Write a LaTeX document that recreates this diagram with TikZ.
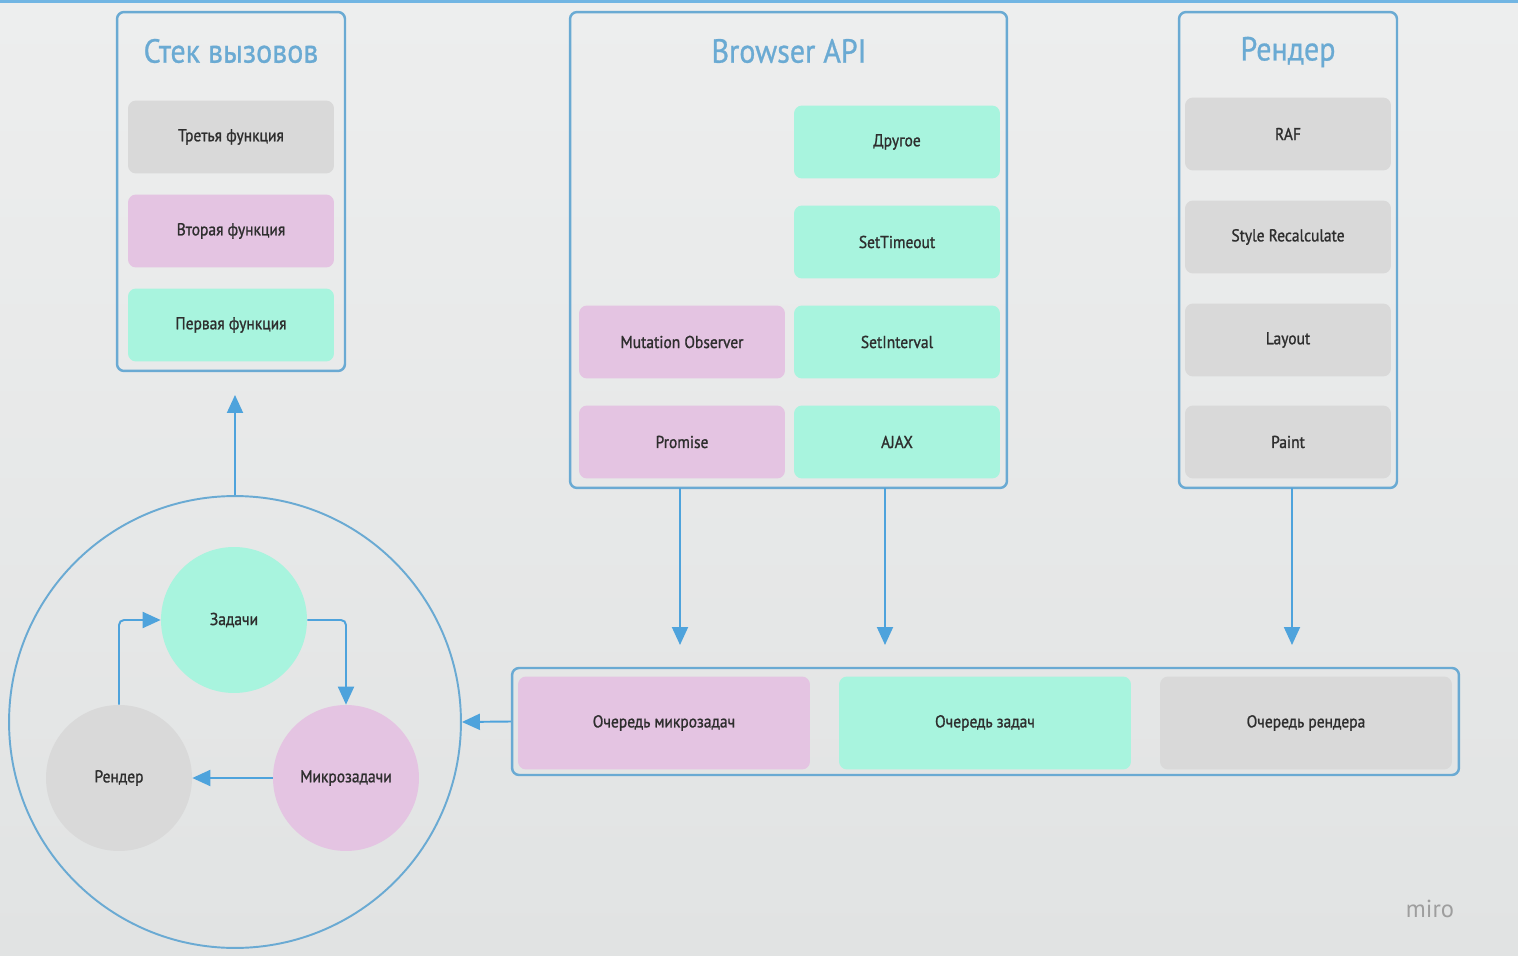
\documentclass[tikz,border=0pt]{standalone}
\usepackage{fontspec}
\setmainfont{PT Sans}
\newfontfamily\labelfont{PT Sans}[FakeBold=1.2, FakeStretch=0.9]
\newfontfamily\titlefont{PT Sans}[FakeBold=0.8, FakeStretch=0.9]
\usetikzlibrary{arrows.meta}

\definecolor{bg}{HTML}{EDEEEE}
\definecolor{bgdark}{HTML}{E1E3E3}
\definecolor{frame}{HTML}{6AAAD3}
\definecolor{arrowblue}{HTML}{4EA3DC}
\definecolor{greybox}{HTML}{D9D9D9}
\definecolor{pinkbox}{HTML}{E4C4E2}
\definecolor{mintbox}{HTML}{A8F4DE}
\definecolor{ink}{HTML}{2E2E2E}

\tikzset{
  container/.style={draw=frame, line width=1.4pt, rounded corners=0.14cm, inner sep=0pt},
  title/.style={text=frame, font=\titlefont\fontsize{19}{19}\selectfont},
  item/.style={rounded corners=0.16cm, minimum width=4.12cm, minimum height=1.46cm,
    text=ink, font=\labelfont\fontsize{9.8}{9.8}\selectfont},
  grey/.style={item, fill=greybox},
  pink/.style={item, fill=pinkbox},
  mint/.style={item, fill=mintbox},
  qitem/.style={item, minimum width=5.84cm, minimum height=1.86cm},
  ball/.style={circle, minimum size=2.92cm, inner sep=0pt, text=ink, font=\labelfont\fontsize{9.8}{9.8}\selectfont},
  arr/.style={draw=arrowblue, line width=1.1pt, -{Triangle[width=0.32cm,length=0.36cm]}},
}

\begin{document}
\begin{tikzpicture}[x=0.02cm, y=-0.02cm]
  % background
  \useasboundingbox (0,0) rectangle (1518,956);
  \shade[top color=bg, bottom color=bgdark] (0,0) rectangle (1518,956);
  \fill[arrowblue!80] (0,0) rectangle (1518,3);

  % call stack
  \node[container, minimum width=4.56cm, minimum height=7.18cm] (stack) at (231,191.5) {};
  \node[title] (stacktitle) at (231,51) {Стек вызовов};
  \node[grey] (third) at (231,137) {Третья функция};
  \node[pink] (second) at (231,231) {Вторая функция};
  \node[mint] (first) at (231,325) {Первая функция};

  % browser api
  \node[container, minimum width=8.74cm, minimum height=9.52cm] (browser) at (788.5,250) {};
  \node[title] (browsertitle) at (789,51) {Browser API};
  \node[mint] (other) at (897,142) {Другое};
  \node[mint] (timeout) at (897,242) {SetTimeout};
  \node[mint] (interval) at (897,342) {SetInterval};
  \node[mint] (ajax) at (897,442) {AJAX};
  \node[pink] (mutation) at (682,342) {Mutation Observer};
  \node[pink] (promise) at (682,442) {Promise};

  % render
  \node[container, minimum width=4.36cm, minimum height=9.52cm] (render) at (1288,250) {};
  \node[title] (rendertitle) at (1288,52) {Рендер};
  \node[grey] (raf) at (1288,134) {RAF};
  \node[grey] (style) at (1288,237) {Style Recalculate};
  \node[grey] (layout) at (1288,340) {Layout};
  \node[grey] (paint) at (1288,442) {Paint};

  % queues
  \node[container, minimum width=18.94cm, minimum height=2.14cm] (queue) at (985.5,721.5) {};
  \node[qitem, fill=pinkbox] (microq) at (664,723) {Очередь микрозадач};
  \node[qitem, fill=mintbox] (taskq) at (985,723) {Очередь задач};
  \node[qitem, fill=greybox] (renderq) at (1306,723) {Очередь рендера};

  % event loop
  \node[circle, draw=frame, line width=1.1pt, minimum size=9.04cm, inner sep=0pt] (loop) at (235,722) {};
  \node[ball, fill=mintbox] (tasks) at (234,620) {Задачи};
  \node[ball, fill=pinkbox] (micro) at (346,778) {Микрозадачи};
  \node[ball, fill=greybox] (rend) at (119,778) {Рендер};

  \coordinate (apiA) at (680,488);
  \coordinate (apiB) at (885,488);
  \coordinate (rndA) at (1292,488);
  \coordinate (inA) at (680,645);
  \coordinate (inB) at (885,645);
  \coordinate (inC) at (1292,645);
  \coordinate (toStack) at (235,395);

  \draw[arr] (apiA) -- (inA);
  \draw[arr] (apiB) -- (inB);
  \draw[arr] (rndA) -- (inC);
  \draw[arr] (queue.west) -- (loop.east);
  \draw[arr] (loop.north) -- (toStack);
  \draw[arr, rounded corners=0.1cm] (tasks.east) -| (micro.north);
  \draw[arr] (micro.west) -- (rend.east);
  \draw[arr, rounded corners=0.1cm] (rend.north) |- (tasks.west);

  \node[text=black!38, font=\fontsize{14}{14}\selectfont] (miro) at (1430,909) {miro};
\end{tikzpicture}
\end{document}
